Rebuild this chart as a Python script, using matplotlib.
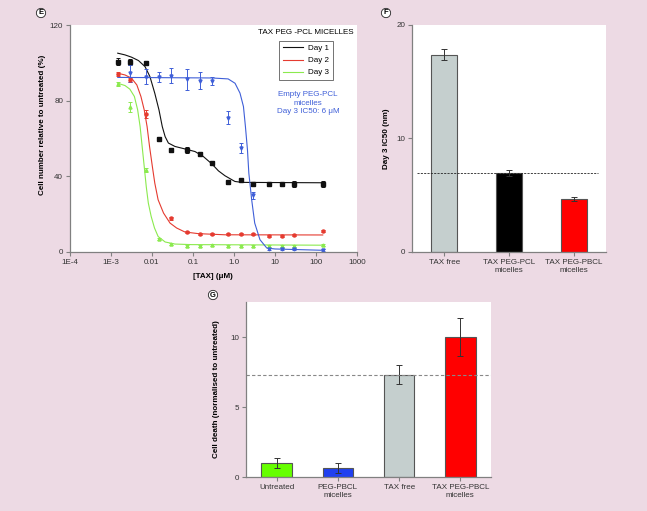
import matplotlib
matplotlib.use("Agg")
import matplotlib.pyplot as plt
from matplotlib.lines import Line2D

plt.rcParams['font.family'] = ['Liberation Sans', 'DejaVu Sans']
plt.rcParams['font.size'] = 5.8

# ---- panel E : dose response ----
conc = [0.00146, 0.0029, 0.0073, 0.0146, 0.029, 0.073, 0.146, 0.29, 0.73, 1.46, 2.9, 7.3, 14.6, 29, 146]
day1 = [100.6, 100.3, 99.9, 59.8, 54.0, 54.0, 51.9, 47.0, 36.8, 38.0, 35.9, 35.9, 35.9, 36.1, 36.1]
day1_err = [2.0, 1.5, 1.0, 1.0, 1.2, 1.5, 1.0, 1.0, 0.8, 0.8, 1.0, 1.0, 1.0, 1.5, 1.5]

conc2 = [0.00146, 0.0029, 0.0073, 0.029, 0.073, 0.146, 0.29, 0.73, 1.46, 2.9, 7.3, 14.6, 29, 146]
day2 = [94.0, 90.8, 73.0, 17.9, 10.6, 9.7, 9.5, 9.7, 9.7, 9.3, 8.6, 8.4, 9.0, 11.1]
day2_err = [1.0, 1.0, 2.0, 0.8, 0.5, 0.5, 0.5, 0.5, 0.5, 0.5, 0.5, 0.5, 0.5, 0.5]

day3 = [89.0, 76.6, 43.3, 7.0, 4.1, 3.4, 3.4, 3.5, 3.4, 3.0, 3.4, 3.2, 3.2, 3.4, 3.7]
day3_err = [1.0, 2.8, 1.0, 0.5, 0.5, 0.5, 0.5, 0.5, 0.5, 0.5, 0.5, 0.5, 0.5, 0.5, 0.5]

conc_e = [0.0029, 0.0073, 0.0146, 0.029, 0.073, 0.146, 0.29, 0.73, 1.46, 2.9, 7.3, 14.6, 29, 146]
empty = [94.5, 92.7, 92.7, 93.1, 91.3, 90.6, 90.3, 71.0, 54.9, 30.0, 1.6, 1.6, 1.8, 0.9]
empty_err = [4.5, 4.0, 2.7, 4.0, 5.5, 4.4, 2.0, 3.3, 2.8, 1.8, 0.5, 0.5, 0.5, 0.5]

# fitted curves
fit1_x = [0.00146, 0.00219, 0.00316, 0.00468, 0.00676, 0.00891, 0.0117, 0.0148, 0.0178, 0.0209,
          0.0251, 0.0363, 0.0631, 0.112, 0.178, 0.288, 0.417, 0.603, 1.05, 1.55, 146]
fit1_y = [105.1, 104.2, 103.0, 101.2, 98.0, 92.7, 83.9, 75.1, 66.3, 61.0,
          57.6, 55.8, 54.5, 53.1, 50.5, 46.6, 42.9, 40.3, 37.3, 36.8, 36.6]
fit2_x = [0.00146, 0.00219, 0.00316, 0.00427, 0.00537, 0.00646, 0.00759, 0.00871, 0.0102, 0.0117,
          0.0141, 0.0191, 0.0275, 0.0398, 0.0631, 0.135, 0.603, 146]
fit2_y = [94.5, 93.6, 91.9, 88.3, 82.2, 75.1, 66.3, 55.8, 45.2, 36.4,
          27.6, 20.6, 15.3, 12.7, 10.6, 9.7, 9.1, 9.0]
fit3_x = [0.00146, 0.00219, 0.00288, 0.00372, 0.00447, 0.00513, 0.00575, 0.00646, 0.00724, 0.00813,
          0.00955, 0.0115, 0.0141, 0.0209, 0.0363, 0.0933, 146]
fit3_y = [89.2, 88.0, 86.1, 82.2, 75.1, 66.3, 55.8, 45.2, 34.6, 25.9,
          18.8, 12.7, 8.2, 5.3, 4.2, 3.9, 3.6]
fit_e_x = [0.00146, 0.29, 0.72, 1.06, 1.4, 1.7, 1.9, 2.13, 2.3, 2.7, 3.2, 4.3, 6.3, 10, 146]
fit_e_y = [92.3, 92.0, 91.5, 89.2, 84.0, 76.9, 66.3, 54.0, 41.7, 27.6, 15.3, 6.5, 2.1, 1.6, 0.9]

xticks_e = [1e-4, 1e-3, 1e-2, 1e-1, 1, 10, 100, 1000]
xticklabels_e = ['1E-4', '1E-3', '0.01', '0.1', '1.0', '10', '100', '1000']

# ---- panel F : IC50 ----
f_names = ['TAX free', 'TAX PEG-PCL\nmicelles', 'TAX PEG-PBCL\nmicelles']
f_vals = [17.4, 6.95, 4.66]
f_err = [0.5, 0.25, 0.16]

# ---- panel G : cell death ----
g_names = ['Untreated', 'PEG-PBCL\nmicelles', 'TAX free', 'TAX PEG-PBCL\nmicelles']
g_vals = [1.0, 0.65, 7.3, 10.0]
g_err = [0.36, 0.35, 0.68, 1.37]

bg = '#EDDAE4'
spine_c = '#808080'
c1, c2, c3, ce = '#111111', '#E53B30', '#8BEA4E', '#3F5FD8'


def style(ax):
    ax.set_facecolor('white')
    for s in ['top', 'right']:
        ax.spines[s].set_visible(False)
    for s in ['left', 'bottom']:
        ax.spines[s].set_color(spine_c)
        ax.spines[s].set_linewidth(0.9)
    ax.tick_params(direction='out', length=3, width=0.8, color=spine_c,
                   labelcolor='#333333', labelsize=5.8, pad=2)


def letter(x, y, s):
    fig.text(x / 647, 1 - y / 511, s, ha='center', va='center', fontsize=5.5, fontweight='bold',
             bbox=dict(boxstyle='circle,pad=0.15', fc='white', ec='#222222', lw=0.6))


fig = plt.figure(figsize=(6.47, 5.11), dpi=100)
fig.patch.set_facecolor(bg)

# E
axE = fig.add_axes([70 / 647, 1 - 252 / 511, 287 / 647, 227 / 511])
style(axE)
axE.set_xscale('log')
axE.plot(fit1_x, fit1_y, color=c1, lw=0.8)
axE.plot(fit2_x, fit2_y, color=c2, lw=0.8)
axE.plot(fit3_x, fit3_y, color=c3, lw=0.8)
axE.plot(fit_e_x, fit_e_y, color=ce, lw=0.8)
ekw = dict(ls='none', ms=2.2, elinewidth=0.7, capsize=1.5, capthick=0.7)
axE.errorbar(conc, day1, yerr=day1_err, marker='s', color=c1, **ekw)
axE.errorbar(conc2, day2, yerr=day2_err, marker='o', color=c2, **ekw)
axE.errorbar(conc, day3, yerr=day3_err, marker='^', color=c3, **ekw)
axE.errorbar(conc_e, empty, yerr=empty_err, marker='v', color=ce, **ekw)
axE.set_xlim(1e-4, 1000)
axE.set_ylim(0, 120)
axE.set_xticks(xticks_e)
axE.set_xticklabels(xticklabels_e)
axE.xaxis.set_minor_locator(matplotlib.ticker.NullLocator())
axE.set_yticks([0, 40, 80, 120])
axE.set_xlabel('[TAX] (μM)', fontweight='bold', fontsize=5.8)
axE.xaxis.set_label_coords(0.498, -0.092)
axE.set_ylabel('Cell number relative to untreated (%)', fontweight='bold', fontsize=5.8)
axE.yaxis.set_label_coords(-0.084, 0.56)

handles = [Line2D([], [], color=c1, lw=0.8), Line2D([], [], color=c2, lw=0.8),
           Line2D([], [], color=c3, lw=0.8)]
leg = axE.legend(handles, ['Day 1', 'Day 2', 'Day 3'], loc='upper left',
                 bbox_to_anchor=(279 / 647, 1 - 41 / 511), bbox_transform=fig.transFigure,
                 borderaxespad=0, fancybox=False, fontsize=5.8, handlelength=2.5,
                 labelspacing=0.55, handletextpad=0.7, borderpad=0.45)
leg.get_frame().set_edgecolor('#333333')
leg.get_frame().set_linewidth(0.6)
fig.text(305.7 / 647, 1 - 32 / 511, 'TAX PEG -PCL MICELLES', ha='center', va='center', fontsize=5.8)
fig.text(308 / 647, 1 - 103 / 511, 'Empty PEG-PCL\nmicelles\nDay 3 IC50: 6 μM', ha='center',
         va='center', fontsize=5.8, color=ce, linespacing=1.3)

# F
axF = fig.add_axes([412 / 647, 1 - 252 / 511, 194 / 647, 227 / 511])
style(axF)
xf = range(len(f_vals))
axF.bar(xf, f_vals, width=0.4, color=['#C5CFCE', '#000000', '#FF0000'], edgecolor='#555555', lw=0.8)
axF.errorbar(xf, f_vals, yerr=f_err, ls='none', color='#333333', elinewidth=0.7, capsize=2.5, capthick=0.7)
axF.plot([-0.43, 2.37], [f_vals[1], f_vals[1]], ls=(0, (2.5, 1.5)), color='#222222', lw=0.6)
axF.set_xlim(-0.5, 2.5)
axF.set_ylim(0, 20)
axF.set_yticks([0, 10, 20])
axF.set_xticks(list(xf))
axF.set_xticklabels(f_names)
axF.set_ylabel('Day 3 IC50 (nm)', fontweight='bold', fontsize=5.8)
axF.yaxis.set_label_coords(-0.113, 0.5)

# G
axG = fig.add_axes([246 / 647, 1 - 477 / 511, 245 / 647, 175 / 511])
style(axG)
xg = range(len(g_vals))
axG.bar(xg, g_vals, width=0.5, color=['#66FF00', '#2040F0', '#C5CFCE', '#FF0000'], edgecolor='#555555', lw=0.8)
axG.errorbar(xg, g_vals, yerr=g_err, ls='none', color='#333333', elinewidth=0.7, capsize=2.5, capthick=0.7)
axG.axhline(g_vals[2], ls=(0, (3, 2)), color='#888888', lw=0.8)
axG.set_xlim(-0.5, 3.5)
axG.set_ylim(0, 12.5)
axG.set_yticks([0, 5, 10])
axG.set_xticks(list(xg))
axG.set_xticklabels(g_names)
axG.set_ylabel('Cell death (normalised to untreated)', fontweight='bold', fontsize=5.8)
axG.yaxis.set_label_coords(-0.106, 0.5)

letter(41, 13, 'E')
letter(386, 13, 'F')
letter(213, 295, 'G')

fig.savefig('out.png', dpi=100, facecolor=bg)
